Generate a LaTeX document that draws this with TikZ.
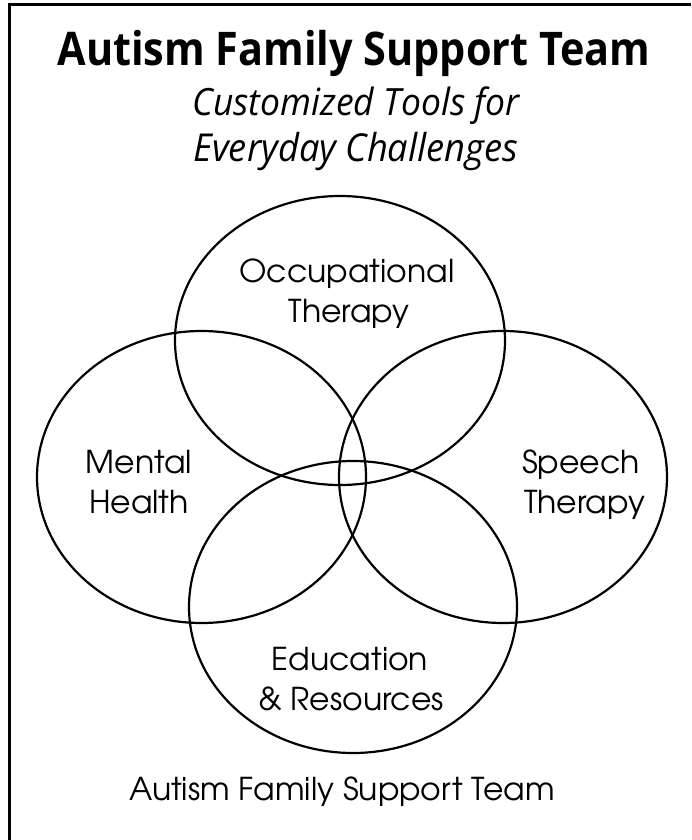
\documentclass[tikz,border=0pt]{standalone}
\usepackage{fontspec}
\setmainfont{Open Sans}
\newfontfamily\gothic{texgyreadventor-regular.otf}
\usetikzlibrary{shapes.geometric}
\newcommand{\fitw}[2]{\resizebox{#1pt}{!}{#2}}
\begin{document}
\begin{tikzpicture}[x=1pt,y=-1pt,
  ring/.style={draw, ellipse, line width=2.2pt, inner sep=0pt, outer sep=0pt},
  lbl/.style={anchor=base, inner sep=0pt, font={\gothic\fontsize{31.5}{40}\selectfont}},
  ttl/.style={anchor=base, inner sep=0pt}]
\useasboundingbox (0,0) rectangle (691,840);
\fill[white] (0,0) rectangle (691,840);
% frame (left and top edges only)
\coordinate (fb) at (9.5,840);
\coordinate (fc) at (9.5,5);
\coordinate (fr) at (691,5);
\draw[line width=3pt] (fb) -- (fc) -- (fr);
% ellipses
\node[ring, minimum width=330pt, minimum height=289pt] (occ) at (340,340.5) {};
\node[ring, minimum width=329pt, minimum height=292pt] (men) at (201.5,477) {};
\node[ring, minimum width=328pt, minimum height=292pt] (spe) at (503,477) {};
\node[ring, minimum width=328pt, minimum height=292pt] (edu) at (353,607) {};
% title
\node[ttl] (t1) at (354,66) {\scalebox{1}[1.12]{\fitw{593}{\bfseries Autism Family Support Team}}};
\node[ttl] (t2) at (356,116) {\scalebox{1}[1.06]{\fitw{327}{\itshape Customized Tools for}}};
\node[ttl] (t3) at (356,161) {\scalebox{1}[1.06]{\fitw{325}{\itshape Everyday Challenges}}};
% labels
\node[lbl] (o1) at (347,282) {Occupational};
\node[lbl] (o2) at (349,322) {Therapy};
\node[lbl] (m1) at (139,473) {Mental};
\node[lbl] (m2) at (139,513) {Health};
\node[lbl, anchor=base west] (s1) at (522,473) {Speech};
\node[lbl, anchor=base west] (s2) at (524,513) {Therapy};
\node[lbl] (e1) at (350,670) {Education};
\node[lbl] (e2) at (351,710) {\& Resources};
\node[lbl] (ft) at (342,800) {Autism Family Support Team};
\end{tikzpicture}
\end{document}
